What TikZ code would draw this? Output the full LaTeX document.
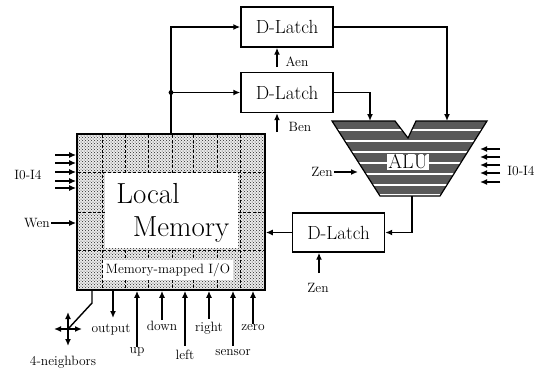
\documentclass[tikz,border=0pt]{standalone}
\usetikzlibrary{arrows.meta,positioning,calc,patterns}

\begin{document}
\begin{tikzpicture}[x=1pt,y=-1pt,
  latch/.style={
    draw, rectangle, line width=1.4pt, fill=white,
    minimum width=92pt, minimum height=40pt, inner sep=0pt,
    font=\fontsize{19}{21}\selectfont
  },
  lbl/.style={font=\fontsize{13.5}{15}\selectfont, inner sep=1pt},
  sig/.style={-{Latex[length=7pt,width=6pt]}, line width=1.4pt},
  dbl/.style={{Latex[length=7pt,width=6pt]}-{Latex[length=7pt,width=6pt]}, line width=1.4pt},
  wire/.style={line width=1.4pt},
  gridln/.style={densely dashed, line width=0.8pt},
  stripe/.style={fill=black!65},
]
\useasboundingbox (0,0) rectangle (543,373);

%% latches
\node[latch] (la) at (287,27) {D-Latch};
\node[latch] (lb) at (287,92.5) {D-Latch};
\node[latch, minimum height=39pt] (lc) at (338.5,232.5) {D-Latch};

%% local memory
\node[draw, line width=1.6pt, minimum width=188pt, minimum height=156pt,
  preaction={fill=black!8},
  pattern=crosshatch dots, pattern color=black!85] (mem) at (171,212) {};
\foreach \gx in {102,125,148,172,193,217,240}
  \draw[gridln] (\gx,135) -- (\gx,289);
\foreach \gy in {172,212,250}
  \draw[gridln] (78,\gy) -- (264,\gy);
\node[fill=white, minimum width=133pt, minimum height=75pt, inner sep=0pt]
  (core) at (171.5,210.5) {};
\node[font=\fontsize{29}{31}\selectfont, inner sep=0pt] (loc) at (148,194) {Local};
\node[font=\fontsize{29}{31}\selectfont, inner sep=0pt] (memtxt) at (181,230) {Memory};
\node[fill=white, minimum width=130pt, minimum height=20pt, inner sep=1pt,
  font=\fontsize{13.5}{15}\selectfont] (mmio) at (168,270) {Memory-mapped I/O};

%% inputs on the left
\node[lbl] (inl) at (28,175) {I0-I4};
\foreach \iy [count=\k] in {155,163,172,181,188} {
  \coordinate (inL\k) at (55,\iy);
  \draw[sig] (inL\k) -- (inL\k -| mem.west);
}
\node[lbl, anchor=east] (wen) at (51,223) {Wen};
\draw[sig] (wen) -- (wen -| mem.west);

%% memory-mapped I/O lines
\coordinate (nb) at (68,329);
\draw[wire] (mem.south -| 92,0) -- (92,303) -- (nb);
\draw[dbl] ([xshift=-14pt]nb) -- ([xshift=14pt]nb);
\draw[dbl] ([yshift=17pt]nb) -- ([yshift=-17pt]nb);
\node[lbl] (nbl) at (63,362) {4-neighbors};

\node[lbl] (out) at (111,330) {output};
\draw[sig] (mem.south -| 113,0) -- (113,318);
\node[lbl] (up) at (137,352) {up};
\draw[sig] (up.north) -- (up.north |- mem.south);
\node[lbl] (down) at (162,326) {down};
\draw[sig] (down.north) -- (down.north |- mem.south);
\node[lbl] (left) at (185,355) {left};
\draw[sig] ([yshift=3pt]left.north) -- (left.north |- mem.south);
\node[lbl] (right) at (209,328) {right};
\draw[sig] ([yshift=2pt]right.north) -- (right.north |- mem.south);
\node[lbl] (sensor) at (233,353) {sensor};
\draw[sig] ([yshift=3pt]sensor.north) -- (sensor.north |- mem.south);
\node[lbl] (zero) at (253,328) {zero};
\draw[sig] (zero.north) -- (zero.north |- mem.south);

%% memory to latches
\coordinate (jn) at (mem.north |- lb.west);
\draw[sig] (mem.north) |- (la.west);
\draw[sig] (jn) -- (lb.west);
\fill (jn) circle (2.4pt);

\coordinate (aenp) at (277,67);
\draw[sig] (aenp) -- (aenp |- la.south);
\node[lbl] (aen) at (297,62) {Aen};
\coordinate (benp) at (277,132);
\draw[sig] (benp) -- (benp |- lb.south);
\node[lbl] (ben) at (300,127) {Ben};

%% ALU
\coordinate (aluA) at (370,121);
\coordinate (aluB) at (447,121);
\coordinate (aluO) at (412,196);
\coordinate (aluZ) at (358,172);
\begin{scope}
  \clip (332,121) -- (395,121) -- (408,138) -- (416,121) -- (487,121)
    -- (440,196) -- (380,196) -- cycle;
  \foreach \k in {0,...,6}
    \fill[stripe] (330,120.5+\k*10.9) rectangle (490,129+\k*10.9);
\end{scope}
\draw[line width=1.2pt] (332,121) -- (395,121) -- (408,138) -- (416,121)
  -- (487,121) -- (440,196) -- (380,196) -- cycle;
\node[fill=white, inner sep=1pt, font=\fontsize{20}{22}\selectfont] (alu) at (408,162) {ALU};

\draw[sig] (la.east) -| (aluB);
\draw[sig] (lb.east) -| (aluA);
\node[lbl] (zena) at (322,172) {Zen};
\draw[sig] (zena) -- (aluZ);
\foreach \iy [count=\k] in {149,157,165,173,182} {
  \coordinate (inR\k) at (500,\iy);
  \draw[sig] (inR\k) -- ([xshift=-20pt]inR\k);
}
\node[lbl] (inr) at (521,171) {I0-I4};

\draw[sig] (aluO) |- (lc.east);
\draw[sig] (lc.west) -- (lc.west -| mem.east);
\coordinate (zenp) at (319,273);
\draw[sig] (zenp) -- (zenp |- lc.south);
\node[lbl] (zenb) at (318,288) {Zen};
\end{tikzpicture}
\end{document}
